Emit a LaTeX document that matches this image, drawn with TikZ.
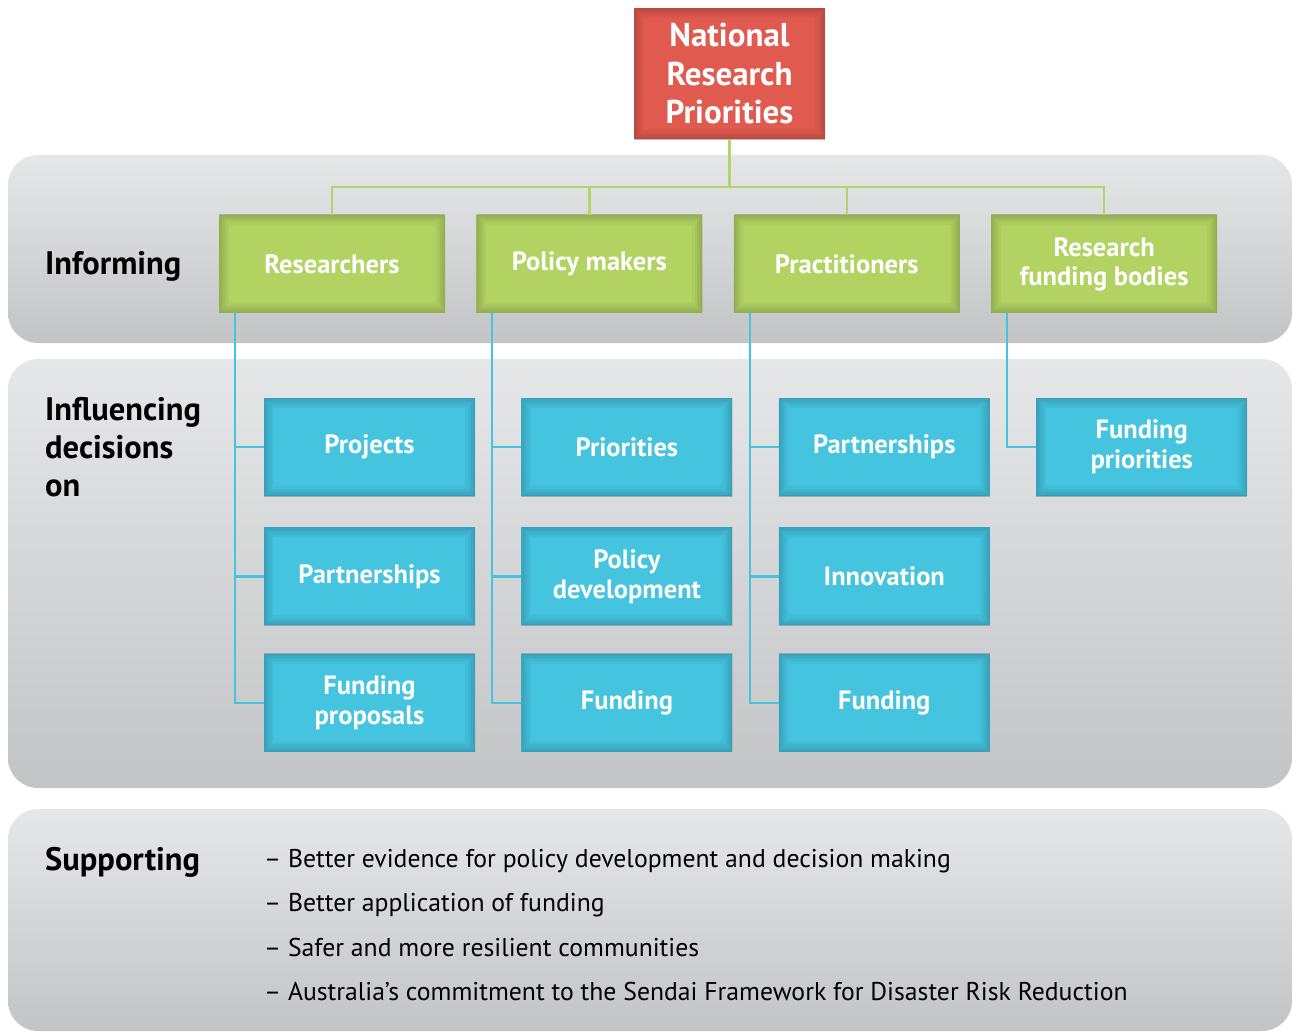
\documentclass[tikz,border=0pt]{standalone}
\usepackage{fontspec}
\setmainfont{PT Sans}
\usetikzlibrary{positioning,calc}

\definecolor{nrpred}{HTML}{E05A4F}
\definecolor{infgreen}{HTML}{B2D362}
\definecolor{decblue}{HTML}{45C4E0}
\definecolor{panelgray}{HTML}{E6E7E8}
\definecolor{paneldark}{HTML}{C3C4C6}
\definecolor{linegreen}{HTML}{B3D46A}
\definecolor{lineblue}{HTML}{48C3DF}

\tikzset{
    tile/.style={rectangle,inner sep=0pt,align=center,text=white,fill=#1,
        path picture={
            \foreach \w in {20,15,11,8,5,2}
                \draw[line width=\w pt,#1!50!black,opacity=0.065]
                    (path picture bounding box.south west) rectangle (path picture bounding box.north east);
        }},
    topbox/.style={tile=nrpred,minimum width=191pt,minimum height=131pt,
        font=\fontsize{33}{38.5}\selectfont\bfseries},
    groupbox/.style={tile=infgreen,minimum width=226pt,minimum height=98pt,
        font=\fontsize{26.5}{29}\selectfont\bfseries},
    decbox/.style={tile=decblue,minimum width=211pt,minimum height=98pt,
        font=\fontsize{26.5}{30}\selectfont\bfseries},
    panel/.style={rounded corners=30pt,top color=panelgray,middle color=panelgray,bottom color=paneldark},
    rowlabel/.style={anchor=west,inner sep=0pt,align=left,font=\fontsize{32.5}{38}\selectfont\bfseries},
    greenline/.style={draw=linegreen,line width=2.2pt},
    blueline/.style={draw=lineblue,line width=2.2pt}
}

\begin{document}
\begin{tikzpicture}[x=1pt,y=-1pt,node distance=31pt]
    \useasboundingbox[fill=white] (0,0) rectangle (1293,1032);

    % background bands
    \shade[panel] (8,155) rectangle (1292,343);
    \shade[panel] (8,359) rectangle (1292,788);
    \shade[panel] (8,809) rectangle (1292,1031);

    \node[rowlabel] (inform) at (45,266) {Informing};
    \node[rowlabel,anchor=north west] (influence) at (45,397) {Influencing\\decisions\\on};
    \node[rowlabel] (support) at (45,862) {Supporting};

    % top box and the four groups
    \node[topbox] (nrp) at (729.5,74) {National\\Research\\Priorities};

    \node[groupbox] (res) at (332,264) {Researchers};
    \node[groupbox,right=of res] (pol) {Policy makers};
    \node[groupbox,right=of pol] (prac) {Practitioners};
    \node[groupbox,right=of prac] (fund) {Research\\funding bodies};

    % decisions under each group
    \node[decbox] (proj) at (369.5,447) {Projects};
    \node[decbox,below=of proj] (part) {Partnerships};
    \node[decbox,below=28pt of part] (fprop) {Funding\\proposals};

    \node[decbox,right=46pt of proj] (prio) {Priorities};
    \node[decbox,below=of prio] (pdev) {Policy\\development};
    \node[decbox,below=28pt of pdev] (pfund) {Funding};

    \node[decbox,right=46pt of prio] (ppart) {Partnerships};
    \node[decbox,below=of ppart] (innov) {Innovation};
    \node[decbox,below=28pt of innov] (prfund) {Funding};

    \node[decbox,right=46pt of ppart] (fprio) {Funding\\priorities};

    % outcomes
    \node[anchor=north west,inner sep=0pt,align=left,font=\fontsize{25.7}{44.4}\selectfont] (outcomes) at (264,849)
        {-- Better evidence for policy development and decision making\\
         -- Better application of funding\\
         -- Safer and more resilient communities\\
         -- Australia’s commitment to the Sendai Framework for Disaster Risk Reduction};

    % tree from the top box
    \path[greenline]
    (nrp.south) -- ++(0,47) coordinate (split)
    (split) -| (res.north)
    (split) -| (pol.north)
    (split) -| (prac.north)
    (split) -| (fund.north);

    % branches down to the decisions
    \path[blueline]
    ([xshift=16pt]res.south west) |- (proj.west)
    ([xshift=16pt]res.south west) |- (part.west)
    ([xshift=16pt]res.south west) |- (fprop.west)
    ([xshift=16pt]pol.south west) |- (prio.west)
    ([xshift=16pt]pol.south west) |- (pdev.west)
    ([xshift=16pt]pol.south west) |- (pfund.west)
    ([xshift=16pt]prac.south west) |- (ppart.west)
    ([xshift=16pt]prac.south west) |- (innov.west)
    ([xshift=16pt]prac.south west) |- (prfund.west)
    ([xshift=16pt]fund.south west) |- (fprio.west);
\end{tikzpicture}
\end{document}
